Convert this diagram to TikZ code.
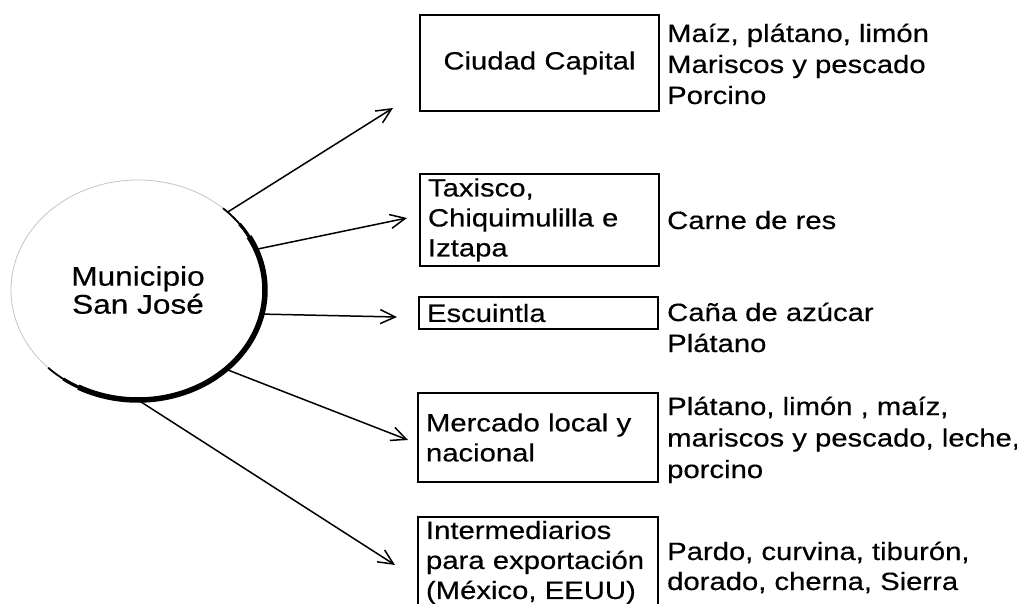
\documentclass[tikz,border=0pt]{standalone}
\usepackage{fontspec}
\setmainfont{Liberation Sans}[FakeStretch=1.17, FakeBold=0.4]
\usetikzlibrary{arrows.meta,shapes.geometric}
\begin{document}
\begin{tikzpicture}[x=1pt,y=-1pt,
  box/.style={draw, line width=1.4pt, anchor=north west, inner xsep=8pt, inner ysep=0pt, outer sep=0pt,
    align=left, font=\fontsize{25}{30}\selectfont},
  lbl/.style={anchor=base west, align=left, inner sep=0pt, font=\fontsize{25}{31}\selectfont},
  conn/.style={line width=1.5pt, -{Straight Barb[length=15pt,width=14pt,line width=1.5pt]}},
]
\useasboundingbox (0,0) rectangle (1017,604);
\fill[white] (0,0) rectangle (1017,604);

% central ellipse
\node[ellipse, minimum width=254pt, minimum height=220pt, inner sep=0pt, outer sep=0pt,
  align=center, font=\fontsize{27}{28}\selectfont] (c) at (138,290) {Municipio\\San José};
\draw[gray!45, line width=0.8pt] (c.center) ellipse [x radius=127, y radius=110];
\draw[line width=1.8pt] plot[domain=-48:-36, samples=10] ({138+127*cos(\x)},{290+110*sin(\x)});
\draw[line width=3.2pt] plot[domain=-37:-28, samples=10] ({138+127*cos(\x)},{290+110*sin(\x)});
\draw[line width=5.5pt] plot[domain=-29:118, samples=90] ({138+127*cos(\x)},{290+110*sin(\x)});
\draw[line width=3.2pt] plot[domain=117:126, samples=10] ({138+127*cos(\x)},{290+110*sin(\x)});
\draw[line width=1.8pt] plot[domain=125:135, samples=10] ({138+127*cos(\x)},{290+110*sin(\x)});

% boxes
\node[box, minimum width=239pt, minimum height=96pt, align=center, text width=223pt] (b1) at (420,15) {Ciudad Capital};
\node[box, minimum width=239pt, minimum height=92pt, text width=223pt] (b2) at (420,174) {Taxisco,\\Chiquimulilla e\\Iztapa};
\node[box, minimum width=239pt, minimum height=32pt, text width=223pt] (b3) at (419,297) {Escuintla};
\node[box, minimum width=240pt, minimum height=89pt, text width=224pt] (b4) at (418,393) {Mercado local y\\nacional};
\node[box, minimum width=240pt, minimum height=91pt, text width=224pt] (b5) at (418,517) {Intermediarios\\para exportación\\(México, EEUU)};

% product lists (anchored at the baseline of their last line)
\node[lbl] (r1) at (667,104) {Maíz, plátano, limón\\Mariscos y pescado\\Porcino};
\node[lbl] (r2) at (667,229) {Carne de res};
\node[lbl] (r3) at (667,352) {Caña de azúcar\\Plátano};
\node[lbl, font=\fontsize{25}{31.5}\selectfont] (r4) at (667,478) {Plátano, limón , maíz,\\mariscos y pescado, leche,\\porcino};
\node[lbl, font=\fontsize{25}{30}\selectfont] (r5) at (667,590) {Pardo, curvina, tiburón,\\dorado, cherna, Sierra};

% arrow tips
\coordinate (t1) at (393,108);
\coordinate (t2) at (407,218);
\coordinate (t3) at (397,317);
\coordinate (t4) at (408,440);
\coordinate (t5) at (395,565);

\draw[conn] (c.41) -- (t1);
\draw[conn] (c.19) -- (t2);
\draw[conn] (c.-11) -- (t3);
\draw[conn] (c.-42) -- (t4);
\draw[conn] (c.-90) -- (t5);
\end{tikzpicture}
\end{document}
